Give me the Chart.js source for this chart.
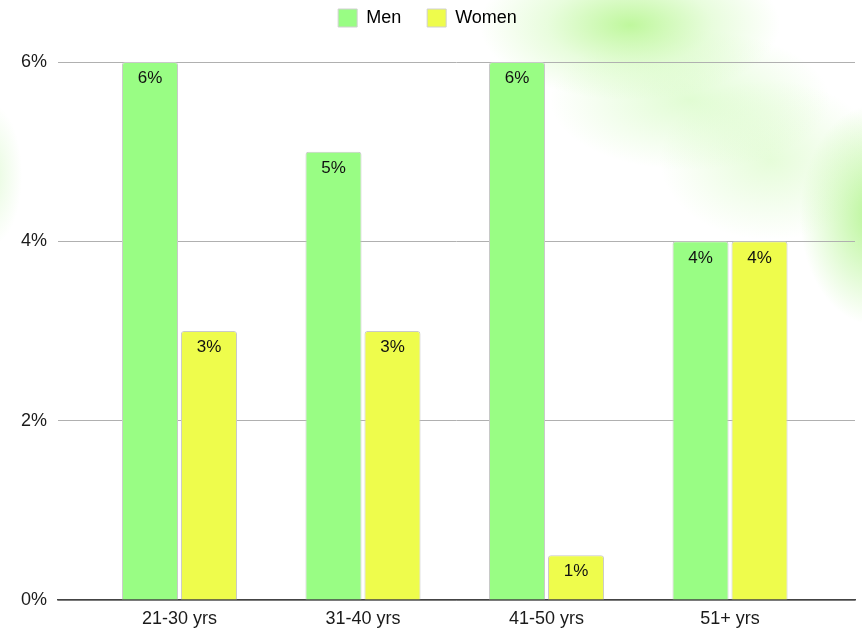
<!DOCTYPE html>
<html>
<head>
<meta charset="utf-8">
<script src="https://cdn.jsdelivr.net/npm/chart.js@4.4.1/dist/chart.umd.min.js"></script>
<style>
  html, body { margin: 0; padding: 0; }
  body {
    width: 862px; height: 630px; overflow: hidden;
    background:
      radial-gradient(ellipse 150px 75px at 630px 25px, rgba(180,246,140,0.85), rgba(205,250,180,0.45) 55%, rgba(255,255,255,0) 100%),
      radial-gradient(ellipse 140px 70px at 690px 100px, rgba(200,250,175,0.55), rgba(255,255,255,0) 100%),
      radial-gradient(ellipse 110px 80px at 770px 160px, rgba(205,250,180,0.5), rgba(255,255,255,0) 100%),
      radial-gradient(ellipse 75px 110px at 875px 215px, rgba(170,244,130,0.85), rgba(255,255,255,0) 100%),
      radial-gradient(ellipse 30px 70px at -8px 175px, rgba(200,246,180,0.45), rgba(255,255,255,0) 100%),
      #fff;
  }
  #wrap { position: relative; width: 862px; height: 630px; }
</style>
</head>
<body>
<div id="wrap"><canvas id="chart"></canvas></div>
<script>
const categories = ["21-30 yrs", "31-40 yrs", "41-50 yrs", "51+ yrs"];
const men = [6, 5, 6, 4];
const women = [3, 3, 0.5, 4];
const yTicks = [0, 2, 4, 6];

const FONT = "'Liberation Sans', Arial, Helvetica, sans-serif";

// value labels just inside the top of each bar
const barLabels = {
    id: "barLabels",
    afterDatasetsDraw(chart) {
        const ctx = chart.ctx;
        ctx.save();
        ctx.font = "17px " + FONT;
        ctx.fillStyle = "#111";
        ctx.textAlign = "center";
        ctx.textBaseline = "middle";
        chart.data.datasets.forEach((ds, i) => {
            chart.getDatasetMeta(i).data.forEach((bar, j) => {
                ctx.fillText(Math.round(ds.data[j].y) + "%", bar.x, bar.y + 16.5);
            });
        });
        ctx.restore();
    }
};

// extra room between legend and plot
const legendGap = {
    id: "legendGap",
    beforeInit(chart) {
        const fit = chart.legend.fit;
        chart.legend.fit = function () {
            fit.bind(chart.legend)();
            this.height = 79;
        };
    }
};

const toPoints = arr => arr.map((v, i) => ({ x: i, y: v }));

new Chart(document.getElementById("chart"), {
    type: "bar",
    data: {
        datasets: [
            {
                label: "Men",
                data: toPoints(men),
                backgroundColor: "#99fd84",
                borderColor: "#c9c9c9",
                borderWidth: 1,
                borderRadius: 3,
                borderSkipped: "bottom"
            },
            {
                label: "Women",
                data: toPoints(women),
                backgroundColor: "#eefc4c",
                borderColor: "#c9c9c9",
                borderWidth: 1,
                borderRadius: 3,
                borderSkipped: "bottom"
            }
        ]
    },
    options: {
        responsive: true,
        maintainAspectRatio: false,
        animation: false,
        layout: { padding: { left: 0, right: 7, top: -17, bottom: 0 } },
        datasets: { bar: { categoryPercentage: 0.643, barPercentage: 0.95 } },
        plugins: {
            tooltip: { enabled: false },
            legend: {
                position: "top",
                labels: {
                    font: { family: FONT, size: 18 },
                    color: "#1a1a1a",
                    boxWidth: 19,
                    boxHeight: 18,
                    padding: 26,
                    generateLabels(chart) {
                        return chart.data.datasets.map((ds, i) => ({
                            text: ds.label,
                            fillStyle: ds.backgroundColor,
                            strokeStyle: "#d0d0d0",
                            lineWidth: 1,
                            datasetIndex: i
                        }));
                    }
                }
            }
        },
        scales: {
            x: {
                type: "linear",
                offset: false,
                min: -0.662,
                max: 3.681,
                afterBuildTicks: s => { s.ticks = categories.map((_, i) => ({ value: i })); },
                afterFit: s => { s.height = 30; },
                grid: { display: false, drawTicks: false },
                border: { display: true, color: "#444", width: 1.5 },
                ticks: {
                    padding: 8,
                    color: "#1a1a1a",
                    font: { family: FONT, size: 18 },
                    callback: v => categories[v] ?? ""
                }
            },
            y: {
                min: 0,
                max: 6,
                afterBuildTicks: s => { s.ticks = yTicks.map(v => ({ value: v })); },
                afterFit: s => { s.width = 58; },
                grid: { color: "#b0b0b0", lineWidth: 1, drawTicks: false },
                border: { display: false },
                ticks: {
                    padding: 11,
                    color: "#1a1a1a",
                    font: { family: FONT, size: 18 },
                    callback: v => v + "%"
                }
            }
        }
    },
    plugins: [barLabels, legendGap]
});
</script>
</body>
</html>
